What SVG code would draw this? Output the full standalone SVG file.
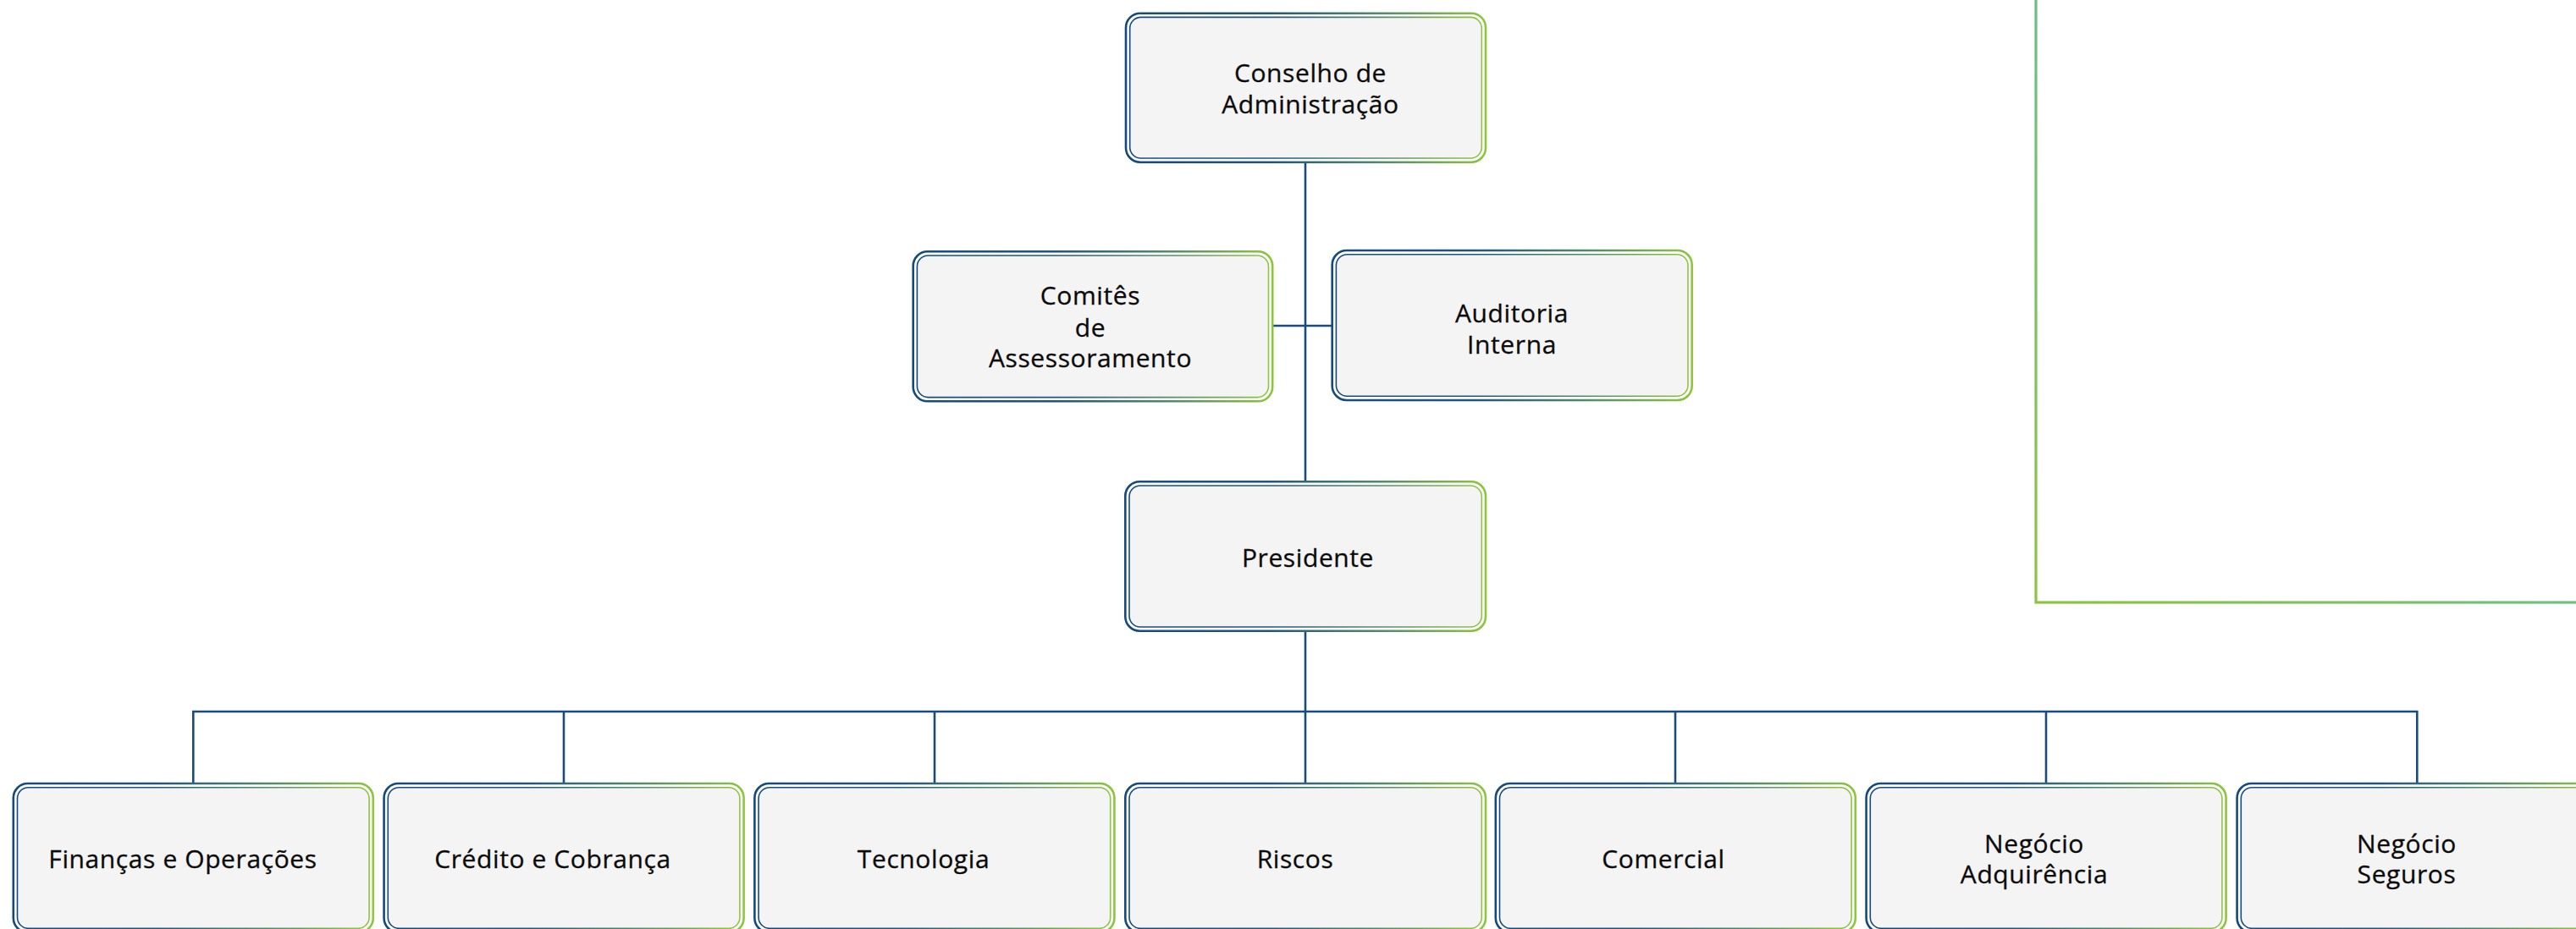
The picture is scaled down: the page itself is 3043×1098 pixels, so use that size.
<svg xmlns="http://www.w3.org/2000/svg" width="3043" height="1098" viewBox="0 0 3043 1098">
<defs>
<linearGradient id="bg" x1="0" y1="0" x2="1" y2="0">
<stop offset="0" stop-color="#154a80"/>
<stop offset="0.4" stop-color="#1f567f"/>
<stop offset="0.7" stop-color="#4f8a6a"/>
<stop offset="1" stop-color="#8dc63f"/>
</linearGradient>
<linearGradient id="gg" gradientUnits="userSpaceOnUse" x1="2405" y1="712" x2="2760" y2="357">
<stop offset="0" stop-color="#8dc43f"/>
<stop offset="1" stop-color="#6cbf86"/>
</linearGradient>
<style>
.o{fill:#ffffff;stroke:url(#bg);stroke-width:2.6}
.i{fill:#f4f4f4;stroke:url(#bg);stroke-width:1.6}
.t{font-family:"Open Sans","Liberation Sans",sans-serif;font-size:30px;letter-spacing:0.6px;fill:#0a0a0a;text-anchor:middle;stroke:#0a0a0a;stroke-width:0.3}
.c{fill:none;stroke:#1b4a7c;stroke-width:2.6}
</style>
</defs>
<rect x="2405" y="-20" width="700" height="732" fill="none" stroke="url(#gg)" stroke-width="3.2"/>
<g id="connectors">
<path class="c" d="M1542 192V569"/>
<path class="c" d="M1503 385H1574"/>
<path class="c" d="M1542 746V926"/>
<path class="c" d="M228.3 926V841H2855.3V926"/>
<path class="c" d="M666 841V926M1104 841V926M1979 841V926M2417 841V926"/>
</g>
<g id="conselho">
<rect class="o" x="1330" y="15.7" width="425" height="176" rx="17"/>
<rect class="i" x="1334.7" y="20.4" width="415.6" height="166.6" rx="13"/>
<text class="t" x="1548" y="97">Conselho de</text>
<text class="t" x="1548" y="134">Administração</text>
</g>
<g id="comites">
<rect class="o" x="1078.7" y="297.3" width="424.5" height="177" rx="17"/>
<rect class="i" x="1083.4" y="302" width="415.1" height="167.6" rx="13"/>
<text class="t" x="1288" y="360">Comitês</text>
<text class="t" x="1288" y="397.7">de</text>
<text class="t" x="1288" y="433.7">Assessoramento</text>
</g>
<g id="auditoria">
<rect class="o" x="1573.7" y="296" width="425" height="177" rx="17"/>
<rect class="i" x="1578.4" y="300.7" width="415.6" height="167.6" rx="13"/>
<text class="t" x="1786" y="381">Auditoria</text>
<text class="t" x="1786" y="417.7">Interna</text>
</g>
<g id="presidente">
<rect class="o" x="1329.3" y="569.3" width="425.7" height="176.4" rx="17"/>
<rect class="i" x="1334" y="574" width="416.3" height="167" rx="13"/>
<text class="t" x="1545" y="670">Presidente</text>
</g>
<g id="financas">
<rect class="o" x="15.8" y="926" width="425" height="176" rx="17"/>
<rect class="i" x="20.5" y="930.7" width="415.6" height="166.6" rx="13"/>
<text class="t" x="216" y="1026">Finanças e Operações</text>
</g>
<g id="credito">
<rect class="o" x="453.6" y="926" width="425" height="176" rx="17"/>
<rect class="i" x="458.3" y="930.7" width="415.6" height="166.6" rx="13"/>
<text class="t" x="653" y="1026">Crédito e Cobrança</text>
</g>
<g id="tecnologia">
<rect class="o" x="891.4" y="926" width="425" height="176" rx="17"/>
<rect class="i" x="896.1" y="930.7" width="415.6" height="166.6" rx="13"/>
<text class="t" x="1091" y="1026">Tecnologia</text>
</g>
<g id="riscos">
<rect class="o" x="1329.3" y="926" width="425.7" height="176" rx="17"/>
<rect class="i" x="1334" y="930.7" width="416.3" height="166.6" rx="13"/>
<text class="t" x="1530" y="1026">Riscos</text>
</g>
<g id="comercial">
<rect class="o" x="1766.8" y="926" width="425" height="176" rx="17"/>
<rect class="i" x="1771.5" y="930.7" width="415.6" height="166.6" rx="13"/>
<text class="t" x="1965" y="1026">Comercial</text>
</g>
<g id="adquirencia">
<rect class="o" x="2204.6" y="926" width="425" height="176" rx="17"/>
<rect class="i" x="2209.3" y="930.7" width="415.6" height="166.6" rx="13"/>
<text class="t" x="2403" y="1008">Negócio</text>
<text class="t" x="2403" y="1044">Adquirência</text>
</g>
<g id="seguros">
<rect class="o" x="2642.6" y="926" width="425" height="176" rx="17"/>
<rect class="i" x="2647.3" y="930.7" width="415.6" height="166.6" rx="13"/>
<text class="t" x="2843" y="1008">Negócio</text>
<text class="t" x="2843" y="1044">Seguros</text>
</g>
</svg>
